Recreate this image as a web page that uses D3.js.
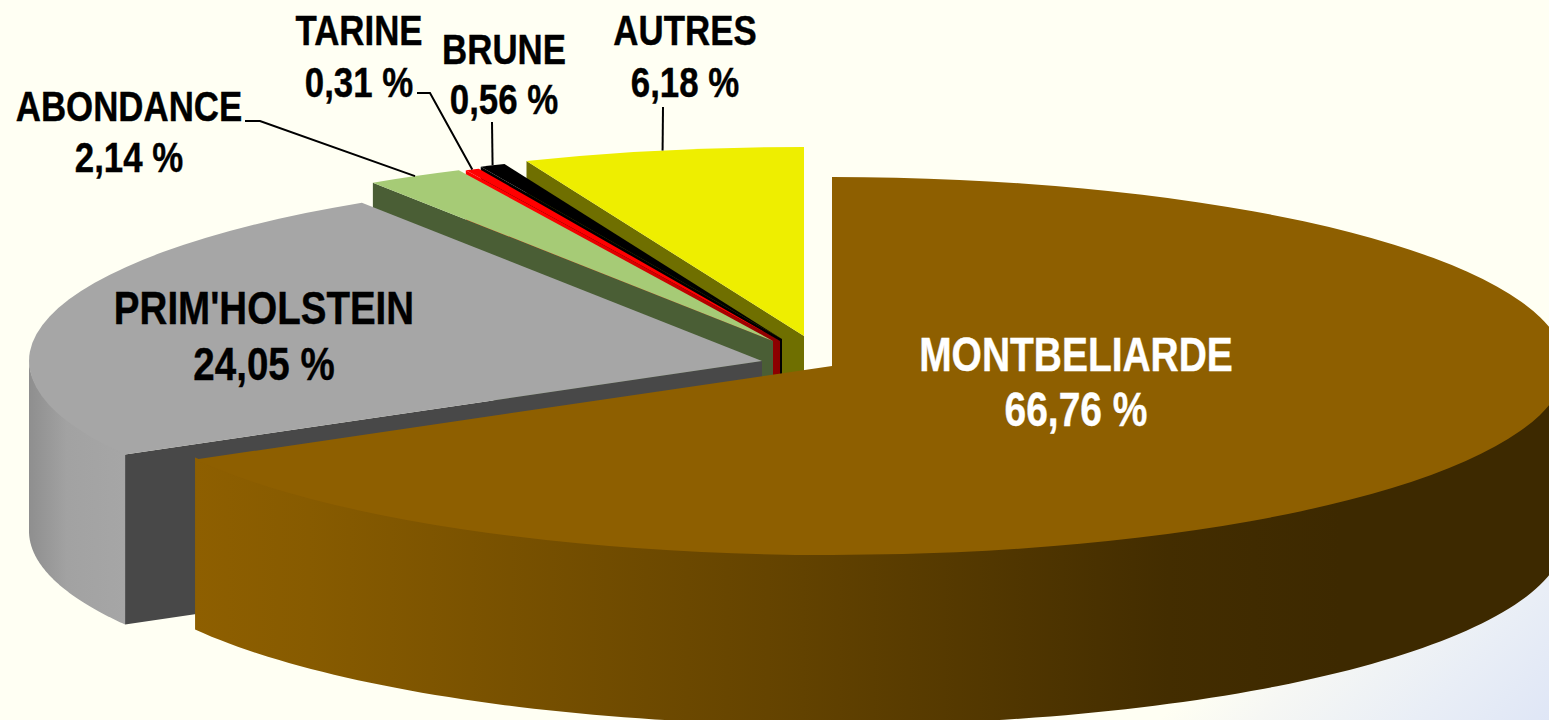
<!DOCTYPE html>
<html><head><meta charset="utf-8">
<script src="https://cdn.jsdelivr.net/npm/d3@7/dist/d3.min.js"></script>
<style>html,body{margin:0;padding:0;background:#fffff3;overflow:hidden}svg{display:block}
text{font-family:"Liberation Sans",Arial,sans-serif;font-weight:700;text-anchor:middle}</style>
</head><body><svg id="c" width="1549" height="720"></svg>
<script>
// DATA
const breeds = ["MONTBELIARDE","PRIM'HOLSTEIN","ABONDANCE","TARINE","BRUNE","AUTRES"];
const shares = [66.76,24.05,2.14,0.31,0.56,6.18];
const shareLabels = ["66,76 %","24,05 %","2,14 %","0,31 %","0,56 %","6,18 %"];

// STYLE / LAYOUT
const W=1549,H=720,RX=733,RY=189,DEPTH=170;
const topColors=["#8e5f00","#a6a6a6","#a6cb76","#ff0000","#000000","#eeee00"];
const wallColors=["#8e5f00","#484848","#4a5e35","url(#wall3)","#000000","#6f6f00"];
const centers=[[832,366],[762,361],[773,341],[780,341],[782,339],[804,336]];
const labelPos=[[1076,371,426,47.5],[264,324,380,47],[129,121,172,42.5],[359,45,97,42.5],[504,64,114,42.5],[685,45,97,42.5]];
const NARROW=0.82;
const leaders=[null,null,[[245,121],[260,121]],[[417,93],[430,93]],[[492,122]],[[663,107]]];
const leaderAngleFrac=[0,0,.5,.5,.5,.5];
const labelColors=["#fff","#000","#000","#000","#000","#000"];

const svg=d3.select("#c");
const defs=svg.append("defs");
function grad(id,x1,y1,x2,y2,stops){
  const g=defs.append("linearGradient").attr("id",id).attr("gradientUnits","userSpaceOnUse")
    .attr("x1",x1).attr("y1",y1).attr("x2",x2).attr("y2",y2);
  stops.forEach(s=>g.append("stop").attr("offset",s[0]).attr("stop-color",s[1]));
}
grad("bg",1354,525,1549,720,[[0,"#fffff3"],[.25,"#f6f7f4"],[.65,"#e9eef6"],[1,"#dfe6f6"]]);
grad("wall0",195,0,1340,0,[[0,"#8e5f00"],[.1,"#875b00"],[.5,"#654400"],[.85,"#432d00"],[1,"#3d2900"]]);
grad("wall1",28,0,125,0,[[0,"#8e8e8e"],[.4,"#a2a2a2"],[1,"#a6a6a6"]]);
grad("wall3",540,0,780,0,[[0,"#ff0000"],[.5,"#d00000"],[.85,"#a00000"],[1,"#8a0000"]]);

svg.append("rect").attr("width",W).attr("height",H).attr("fill","url(#bg)");

const pie=d3.pie().sort(null).value(d=>d);
const arcs=pie(shares);
const line=d3.line();
const PI=Math.PI;
function rim(i,a,dz=0){
  const [cx,cy]=centers[i];
  const px=d3.scaleLinear().domain([-1,1]).range([cx-RX,cx+RX]);
  const py=d3.scaleLinear().domain([-1,1]).range([cy-RY+dz,cy+RY+dz]);
  return [px(Math.sin(a)),py(-Math.cos(a))];
}
const unit=d3.arc().innerRadius(0).outerRadius(RX);
for(let i=arcs.length-1;i>=0;i--){
  const a=arcs[i],[cx,cy]=centers[i];
  const g=svg.append("g");
  if(i>0){
    const p=rim(i,a.startAngle);
    g.append("path").attr("fill",wallColors[i]).attr("d",line([[cx,cy],p,[p[0],p[1]+DEPTH],[cx,cy+DEPTH]])+"Z");
  }
  const s=Math.max(a.startAngle,PI/2),e=Math.min(a.endAngle,3*PI/2);
  if(e>s){
    const n=120,ang=d3.range(n+1).map(k=>s+(e-s)*k/n);
    const pts=ang.map(t=>rim(i,t,-2)).concat(ang.slice().reverse().map(t=>rim(i,t,DEPTH)));
    g.append("path").attr("fill",i<2?`url(#wall${i})`:wallColors[i]).attr("d",line(pts)+"Z");
  }
  g.append("path").attr("fill",topColors[i])
   .attr("transform",`translate(${cx},${cy}) scale(1,${RY/RX})`)
   .attr("d",unit(a));
  if(leaders[i]){
    const t=a.startAngle+(a.endAngle-a.startAngle)*leaderAngleFrac[i];
    leaders[i].q=rim(i,t);
  }
}
arcs.forEach((a,i)=>{
  if(leaders[i]){
    const p=leaders[i].concat([leaders[i].q]);
    svg.append("path").attr("fill","none").attr("stroke","#000").attr("stroke-width",2).attr("d",line(p));
  }
  const [x,y1,y2,fs]=labelPos[i];
  [[y1,breeds[i]],[y2,shareLabels[i]]].forEach(([y,t])=>{
    svg.append("text").attr("transform",`translate(${x},${y}) scale(${NARROW},1)`)
      .attr("font-size",fs).attr("fill",labelColors[i])
      .attr("stroke",labelColors[i]).attr("stroke-width",0.4).text(t);
  });
});
</script></body></html>
